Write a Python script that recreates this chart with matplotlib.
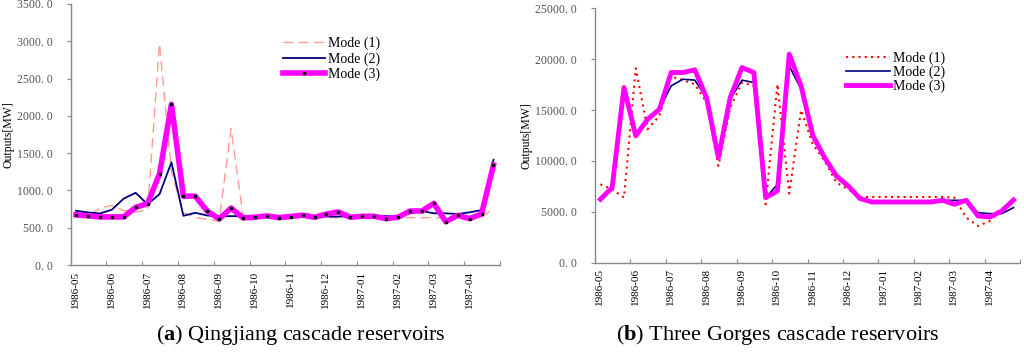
import numpy as np
import matplotlib
matplotlib.use("Agg")
import matplotlib.pyplot as plt

plt.rcParams["font.family"] = ["Liberation Serif", "DejaVu Serif"]
plt.rcParams["mathtext.fontset"] = "custom"
plt.rcParams["mathtext.rm"] = "Liberation Serif"
plt.rcParams["mathtext.bf"] = "Liberation Serif:bold"

# 36 ten-day periods, May 1986 - April 1987
month_labels = ["1986-05", "1986-06", "1986-07", "1986-08", "1986-09", "1986-10",
                "1986-11", "1986-12", "1987-01", "1987-02", "1987-03", "1987-04"]

# Qingjiang cascade reservoirs, outputs [MW]
qj_mode1 = [650, 665, 760, 800, 730, 710, 740, 2970, 1250, 700, 640, 610,
            590, 1830, 660, 640, 640, 640, 640, 640, 635, 635, 635, 635,
            635, 635, 635, 635, 635, 635, 635, 635, 635, 635, 640, 760]
qj_mode2 = [727, 705, 691, 741, 891, 968, 814, 950, 1377, 660, 700, 664,
            655, 655, 655, 655, 655, 655, 655, 666, 648, 650, 650, 650,
            653, 653, 657, 648, 693, 724, 693, 693, 684, 706, 737, 1410]
qj_mode3 = [673, 659, 645, 645, 645, 773, 823, 1223, 2155, 923, 923, 723,
            618, 764, 632, 641, 659, 636, 650, 668, 640, 684, 711, 640,
            653, 653, 622, 640, 724, 724, 827, 581, 666, 622, 684, 1340]

# Three Gorges cascade reservoirs, outputs [MW]
tg_mode1 = [7700, 7210, 6400, 19100, 13110, 14430, 18300, 17940, 17540, 15740, 9510, 15250,
            17700, 17380, 5740, 17540, 6800, 15000, 11640, 10000, 7870, 7210, 6460, 6460,
            6460, 6460, 6460, 6460, 6460, 6460, 6390, 4430, 3610, 4100, 5250, 6130]
tg_mode2 = [6230, 7380, 17210, 12460, 14100, 15080, 17380, 18030, 17940, 16200, 10330, 16070,
            17940, 17700, 6390, 7700, 19340, 17050, 12500, 10330, 8520, 7540, 6300, 5970,
            5970, 5970, 5970, 5970, 5970, 6130, 6130, 6130, 4920, 4820, 4820, 5410]
tg_mode3 = [6230, 7380, 17210, 12460, 14100, 15080, 18690, 18690, 18950, 16200, 10330, 16230,
            19180, 18690, 6390, 7050, 20490, 17380, 12500, 10330, 8520, 7540, 6300, 5970,
            5970, 5970, 5970, 5970, 5970, 6130, 5740, 6130, 4590, 4490, 5080, 6160]


def style_axes(ax, ymax, ystep):
    x_mon = np.arange(12) * 3
    ax.set_xlim(0, 36)
    ax.set_ylim(0, ymax)
    ax.set_xticks(np.arange(0, 37, 3))
    ax.set_xticklabels([])
    ax.set_xticks(x_mon + 0.4, month_labels, minor=True)
    ax.tick_params(axis="x", which="major", direction="in", length=3, color="#888888")
    ax.tick_params(axis="x", which="minor", length=0, labelsize=8, rotation=90, pad=4)
    yt = np.arange(0, ymax + 1, ystep)
    ax.set_yticks(yt, [f"{v}. 0" for v in yt])
    ax.tick_params(axis="y", direction="out", length=3, color="#888888",
                   labelsize=8.5, labelcolor="#555555", pad=10)
    for s in ["top", "right"]:
        ax.spines[s].set_visible(False)
    for s in ["left", "bottom"]:
        ax.spines[s].set_color("#888888")
        ax.spines[s].set_linewidth(1.0)
    ax.set_ylabel("Outputs[MW]", fontsize=8.5, labelpad=2)


fig = plt.figure(figsize=(10.24, 3.57), dpi=100)
ax1 = fig.add_axes([0.069, 0.2577, 0.4193, 0.7311])
ax2 = fig.add_axes([0.5811, 0.2641, 0.415, 0.7127])

x = np.arange(36) + 0.45

ax1.plot(x, qj_mode1, color="#FF9B8F", lw=1.0, dashes=(7, 4), label="Mode (1)")
ax1.plot(x, qj_mode2, color="#000080", lw=1.3, label="Mode (2)")
ax1.plot(x, qj_mode3, color="#FF00FF", lw=4, marker="s", ms=1.4,
         mfc="black", mec="black", solid_joinstyle="round", label="Mode (3)")
style_axes(ax1, 3500, 500)
ax1.legend(loc="upper left", bbox_to_anchor=(0.495, 0.875), frameon=False,
           fontsize=10, handlelength=3.0, handletextpad=0.2, labelspacing=0.15,
           borderpad=0, borderaxespad=0)

ax2.plot(x, tg_mode1, color="#FF0000", lw=1.5, linestyle=(0, (1, 2)), label="Mode (1)")
ax2.plot(x, tg_mode2, color="#000080", lw=1.2, label="Mode (2)")
ax2.plot(x, tg_mode3, color="#FF00FF", lw=3.5, solid_joinstyle="round", label="Mode (3)")
style_axes(ax2, 25000, 5000)
ax2.legend(loc="upper left", bbox_to_anchor=(0.59, 0.83), frameon=False,
           fontsize=10, handlelength=3.2, handletextpad=0.2, labelspacing=0.05,
           borderpad=0, borderaxespad=0)

fig.text(0.294, 0.062, r"($\mathbf{a}$) Qingjiang cascade reservoirs",
         ha="center", va="center", fontsize=16)
fig.text(0.760, 0.062, r"($\mathbf{b}$) Three Gorges cascade reservoirs",
         ha="center", va="center", fontsize=16)

fig.savefig("out.png", dpi=100)
